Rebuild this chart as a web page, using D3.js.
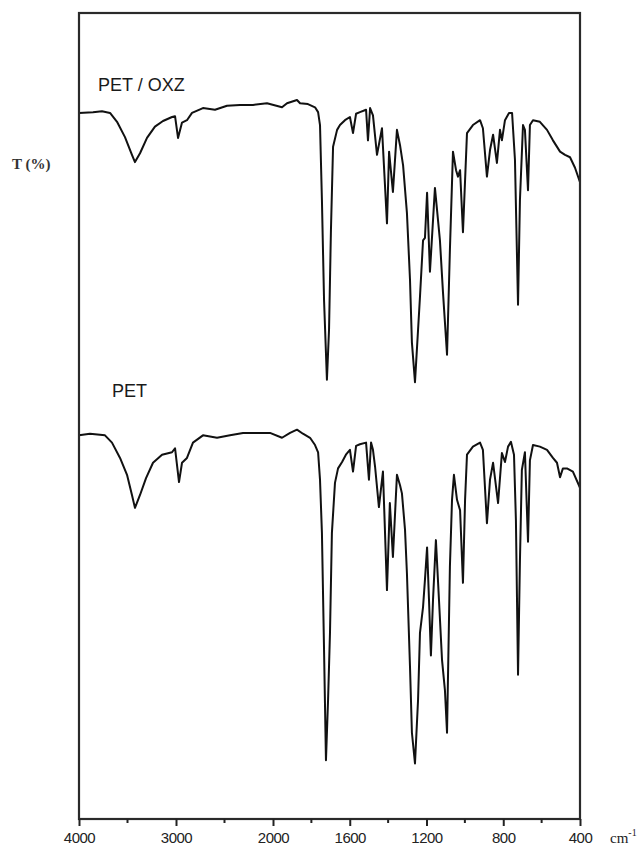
<!DOCTYPE html>
<html>
<head>
<meta charset="utf-8">
<script src="https://cdn.jsdelivr.net/npm/d3@7"></script>
<style>
  body { margin: 0; background: #fff; }
  svg { display: block; }
</style>
</head>
<body>
<div id="chart"></div>
<script>
// IR spectra, PET/OXZ (top) and PET (bottom)

const majorTicks = [4000, 3000, 2000, 1600, 1200, 800, 400];
const minorTicks = [3500, 2500, 1800, 1400, 1000, 600];

const petOxzWn = [4000, 3856, 3763, 3680, 3608, 3526, 3454, 3423, 3371, 3299, 3217, 3134, 3041, 3010, 2979, 2938, 2887, 2835, 2722, 2598, 2474, 2340, 2206, 2062,
  1953, 1927, 1875, 1859, 1818, 1781, 1765, 1755, 1745, 1734, 1719, 1708, 1698, 1687, 1666, 1651, 1625, 1599, 1583, 1567, 1547, 1515, 1505, 1494, 1479, 1458,
  1432, 1406, 1395, 1375, 1354, 1338, 1322, 1302, 1286, 1276, 1260, 1244, 1234, 1218, 1208, 1197, 1182, 1156, 1130, 1114, 1093, 1078, 1062, 1046, 1036, 1025,
  1010, 989, 958, 921, 906, 885, 869, 853, 833, 817, 807, 791, 770, 754, 739, 723, 713, 697, 687, 671, 661, 645, 609, 572, 541, 504, 478, 452, 426, 400];
const petOxzT = [87.6, 87.7, 87.8, 87.6, 86.5, 84.6, 82.4, 81.5, 82.6, 84.5, 85.9, 86.6, 87.1, 87.2, 84.5, 86.4, 86.7, 87.6, 88.2, 88.0, 88.5, 88.6, 88.6, 88.8,
  88.3, 88.8, 89.2, 88.8, 88.7, 88.3, 87.7, 86.1, 76.8, 64.4, 54.5, 60.7, 73.1, 83.4, 85.5, 86.1, 86.7, 87.1, 85.1, 87.5, 87.7, 88.0, 84.2, 88.2, 87.3, 82.4,
  85.7, 73.9, 82.8, 77.8, 85.5, 83.6, 81.1, 75.2, 66.9, 59.1, 54.2, 60.7, 64.8, 71.8, 72.1, 77.7, 67.9, 78.3, 71.8, 65.3, 57.6, 70.6, 82.8, 80.5, 79.7, 80.5,
  72.8, 85.1, 86.1, 86.7, 85.7, 79.7, 83.0, 84.9, 81.4, 85.5, 84.2, 86.7, 87.6, 87.6, 81.8, 63.8, 76.8, 86.1, 85.5, 78.0, 86.1, 86.7, 86.5, 85.5, 84.2, 82.8, 82.4, 82.1, 80.8, 79.0];

const petWn = [4000, 3887, 3732, 3660, 3577, 3505, 3454, 3423, 3371, 3309, 3237, 3144, 3041, 3010, 2969, 2938, 2887, 2825, 2722, 2577, 2443, 2309, 2165, 2031,
  1953, 1911, 1875, 1844, 1807, 1781, 1765, 1755, 1745, 1734, 1724, 1713, 1703, 1693, 1677, 1661, 1640, 1620, 1599, 1583, 1567, 1547, 1515, 1500, 1489, 1479,
  1468, 1448, 1427, 1406, 1391, 1375, 1354, 1338, 1328, 1312, 1302, 1286, 1276, 1260, 1244, 1234, 1218, 1208, 1197, 1187, 1177, 1166, 1151, 1135, 1119, 1104,
  1093, 1078, 1067, 1057, 1041, 1025, 1010, 999, 989, 958, 921, 906, 885, 869, 853, 827, 807, 791, 775, 760, 744, 734, 723, 713, 703, 687, 671, 661, 645, 609,
  572, 541, 520, 504, 489, 468, 437, 400];
const petT = [47.6, 47.8, 47.6, 46.7, 44.8, 42.7, 40.2, 38.6, 40.2, 42.3, 44.2, 45.2, 45.5, 46.0, 41.8, 44.2, 44.8, 46.7, 47.6, 47.3, 47.6, 47.9, 47.9, 47.9,
  47.3, 47.9, 48.3, 47.8, 47.3, 46.4, 45.5, 42.1, 35.5, 21.0, 7.3, 14.8, 23.1, 35.5, 41.7, 43.5, 44.3, 45.2, 45.8, 43.1, 46.3, 46.5, 46.7, 42.1, 46.7, 45.8,
  43.7, 38.7, 43.1, 28.4, 39.2, 32.5, 42.7, 41.4, 40.4, 35.9, 30.5, 18.9, 10.7, 6.9, 14.8, 23.1, 26.3, 29.7, 33.7, 27.2, 20.3, 27.2, 34.6, 27.2, 19.7, 16.0,
  10.7, 31.3, 39.6, 42.7, 39.6, 38.3, 29.3, 39.6, 45.2, 46.2, 46.7, 45.8, 36.7, 42.1, 44.2, 39.2, 45.4, 44.3, 46.2, 46.8, 45.2, 37.1, 17.9, 32.1, 43.3, 45.5, 34.4, 44.5, 46.4, 46.2,
  45.8, 44.8, 44.2, 42.4, 43.5, 43.5, 43.1, 41.1];

const width = 638, height = 847;
const margin = { left: 79, right: 580, top: 13, bottom: 819 };

const svg = d3.select('#chart').append('svg')
  .attr('width', width)
  .attr('height', height);

// scale changes at 2000 cm-1 (twice as wide below)
const x = d3.scaleLinear().domain([4000, 2000, 400]).range([margin.left, 273, margin.right]);
const y = d3.scaleLinear().domain([0, 100]).range([margin.bottom, margin.top]);

const line = d3.line()
  .x(d => x(d[0]))
  .y(d => y(d[1]));

[[petOxzWn, petOxzT], [petWn, petT]].forEach(([wn, t]) => {
  svg.append('path')
    .datum(d3.zip(wn, t))
    .attr('d', line)
    .attr('fill', 'none')
    .attr('stroke', '#111')
    .attr('stroke-width', 2)
    .attr('stroke-linejoin', 'round');
});

// frame
svg.append('rect')
  .attr('x', margin.left).attr('y', margin.top)
  .attr('width', margin.right - margin.left).attr('height', margin.bottom - margin.top)
  .attr('fill', 'none')
  .attr('stroke', '#2a2a2a')
  .attr('stroke-width', 2.2);

// bottom axis
const axis = svg.append('g')
  .attr('transform', `translate(0,${margin.bottom})`)
  .call(d3.axisBottom(x).tickValues(majorTicks).tickSize(7).tickPadding(6).tickFormat(d3.format('d')));
axis.select('.domain').remove();
axis.selectAll('line').attr('stroke', '#222').attr('stroke-width', 2);
axis.selectAll('text')
  .attr('font-family', 'Liberation Sans, Arial, sans-serif')
  .attr('font-size', 15)
  .attr('letter-spacing', -0.5)
  .attr('fill', '#222');

svg.append('g')
  .selectAll('line')
  .data(minorTicks)
  .enter().append('line')
  .attr('x1', d => x(d)).attr('x2', d => x(d))
  .attr('y1', margin.bottom).attr('y2', margin.bottom + 4)
  .attr('stroke', '#222')
  .attr('stroke-width', 2);

// unit label
const unit = svg.append('text')
  .attr('x', 610).attr('y', 843)
  .attr('font-family', 'Liberation Serif, Times New Roman, serif')
  .attr('font-size', 15)
  .attr('fill', '#222');
unit.append('tspan').text('cm');
unit.append('tspan').attr('dy', -7).attr('font-size', 10).text('-1');

// y label
svg.append('text')
  .attr('x', 12).attr('y', 169)
  .attr('font-family', 'Liberation Serif, Times New Roman, serif')
  .attr('font-size', 15)
  .attr('font-weight', 'bold')
  .attr('fill', '#333')
  .text('T (%)');

// trace labels
svg.append('text')
  .attr('x', 98).attr('y', 91)
  .attr('font-family', 'Liberation Sans, Arial, sans-serif')
  .attr('font-size', 18)
  .attr('fill', '#1a1a1a')
  .text('PET / OXZ');

svg.append('text')
  .attr('x', 112).attr('y', 397)
  .attr('font-family', 'Liberation Sans, Arial, sans-serif')
  .attr('font-size', 18)
  .attr('fill', '#1a1a1a')
  .text('PET');
</script>
</body>
</html>
